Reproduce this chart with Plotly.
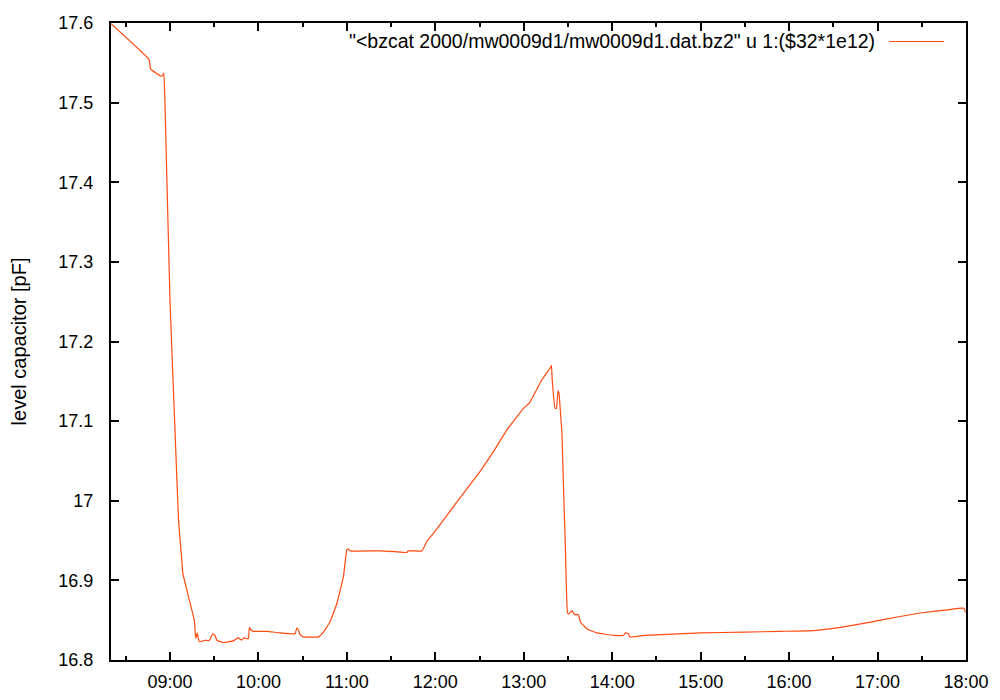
import plotly.graph_objects as go

day = "2000-09-01 "
times = ["08:20:00", "08:45:48", "08:46:54", "08:54:24", "08:55:48", "08:56:36", "09:00:00",
         "09:03:24", "09:05:48", "09:08:00", "09:08:42", "09:12:30", "09:16:30", "09:17:30",
         "09:18:24", "09:19:54", "09:22:24", "09:24:30", "09:25:48", "09:27:12", "09:29:00",
         "09:30:36", "09:31:42", "09:34:00", "09:36:12", "09:43:00", "09:45:18", "09:46:12",
         "09:47:36", "09:48:42", "09:50:18", "09:51:36", "09:53:12", "09:53:54", "09:54:48",
         "09:56:36", "10:05:42", "10:14:42", "10:24:54", "10:26:00", "10:27:06", "10:28:18",
         "10:30:30", "10:40:42", "10:44:06", "10:48:36", "10:53:12", "10:57:42", "11:00:00",
         "11:01:06", "11:02:12", "11:22:36", "11:32:42", "11:40:42", "11:41:36", "11:50:54",
         "11:54:18", "11:58:42", "12:15:42", "12:30:24", "12:39:30", "12:48:36", "12:59:48",
         "13:03:54", "13:12:18", "13:18:00", "13:18:48", "13:19:18", "13:21:18", "13:22:12",
         "13:23:12", "13:23:54", "13:24:42", "13:25:54", "13:27:00", "13:28:06", "13:29:42",
         "13:30:36", "13:32:42", "13:34:24", "13:37:06", "13:38:18", "13:42:54", "13:49:36",
         "14:00:54", "14:07:42", "14:08:54", "14:11:06", "14:11:48", "14:22:24", "14:59:42",
         "15:30:00", "15:54:00", "16:16:36", "16:34:42", "16:50:36", "17:01:54", "17:13:18",
         "17:29:06", "17:47:12", "17:58:30", "17:59:36"]
capacitance = [17.599, 17.554, 17.542, 17.533, 17.537, 17.500, 17.252,
               17.089, 16.976, 16.926, 16.909, 16.880, 16.850, 16.827,
               16.834, 16.823, 16.824, 16.825, 16.824, 16.826, 16.833,
               16.831, 16.825, 16.823, 16.822, 16.824, 16.827, 16.828,
               16.826, 16.825, 16.828, 16.827, 16.827, 16.841, 16.838,
               16.836, 16.836, 16.834, 16.833, 16.840, 16.838, 16.832,
               16.829, 16.829, 16.835, 16.848, 16.871, 16.905, 16.939,
               16.939, 16.937, 16.937, 16.936, 16.935, 16.937, 16.937,
               16.949, 16.959, 17.001, 17.037, 17.062, 17.089, 17.116,
               17.123, 17.152, 17.167, 17.170, 17.152, 17.116, 17.116,
               17.138, 17.135, 17.116, 17.085, 17.014, 16.951, 16.859,
               16.858, 16.862, 16.857, 16.857, 16.848, 16.839, 16.834,
               16.831, 16.831, 16.834, 16.833, 16.829, 16.831, 16.834,
               16.835, 16.836, 16.837, 16.841, 16.846, 16.850, 16.854,
               16.859, 16.863, 16.865, 16.860]

x_tick_hours = ["09:00", "10:00", "11:00", "12:00", "13:00", "14:00", "15:00", "16:00", "17:00", "18:00"]
y_tick_vals = [16.8, 16.9, 17.0, 17.1, 17.2, 17.3, 17.4, 17.5, 17.6]
y_tick_text = ["16.8", "16.9", "17", "17.1", "17.2", "17.3", "17.4", "17.5", "17.6"]
legend_label = "\"<bzcat 2000/mw0009d1/mw0009d1.dat.bz2\" u 1:($32*1e12)"

color = "#ff4a10"
font = "Liberation Sans, Arial, Helvetica, sans-serif"

fig = go.Figure()
fig.add_trace(go.Scatter(
    x=[day + t for t in times], y=capacitance, mode="lines",
    line=dict(color=color, width=1.2, shape="spline", smoothing=0.3),
    showlegend=False, name=legend_label))

fig.update_layout(
    width=1000, height=700,
    margin=dict(l=111, r=34, t=23, b=40),
    paper_bgcolor="white", plot_bgcolor="white",
    font=dict(family=font, size=18, color="black"),
    xaxis=dict(
        type="date", automargin=False,
        range=[day + "08:20:00", day + "18:00:00"],
        tickvals=[day + h + ":00" for h in x_tick_hours],
        ticktext=x_tick_hours,
        ticks="inside", ticklen=8, tickwidth=1.5, tickcolor="black",
        showline=True, linecolor="black", linewidth=2, mirror="allticks",
        showgrid=False, zeroline=False,
        tickfont=dict(size=18),
        ticklabelstandoff=4,
        minor=dict(dtick=1800000, tick0=day + "08:30:00", ticks="inside",
                   ticklen=4, tickwidth=1.5, tickcolor="black", showgrid=False),
    ),
    yaxis=dict(
        range=[16.8, 17.6], automargin=False,
        tickvals=y_tick_vals, ticktext=y_tick_text,
        ticks="inside", ticklen=8, tickwidth=1.5, tickcolor="black",
        showline=True, linecolor="black", linewidth=2, mirror="allticks",
        showgrid=False, zeroline=False,
        tickfont=dict(size=18),
        ticklabelstandoff=12,
        title=dict(text="level capacitor [pF]", font=dict(size=20), standoff=26),
    ),
)

fig.add_annotation(
    xref="paper", yref="paper", x=(877 - 111) / 855, y=(660 - 41) / 637,
    xanchor="right", yanchor="middle", text=legend_label, showarrow=False,
    font=dict(size=19.5, family=font))
fig.add_shape(
    type="line", xref="paper", yref="paper",
    x0=(889 - 111) / 855, x1=(944 - 111) / 855,
    y0=(660 - 41.5) / 637, y1=(660 - 41.5) / 637,
    line=dict(color=color, width=1.2))

fig.write_html("out.html", config={"displayModeBar": False},
               post_script="document.body.style.margin='0';")
